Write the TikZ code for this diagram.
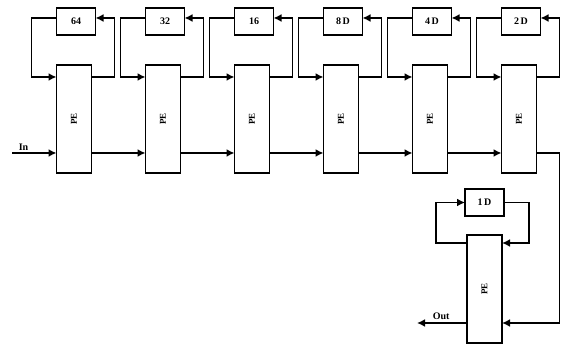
\documentclass[tikz,border=0pt]{standalone}
\usepackage{fontspec}
\setmainfont{Liberation Serif}
\usepackage{tikz}
\usetikzlibrary{arrows.meta, positioning}

\begin{document}
\begin{tikzpicture}[
    x=1pt, y=1pt,
    node distance=54pt,
    line width=1.7pt,
    >={Latex[length=8pt,width=8pt]},
    pe/.style={
        rectangle,
        draw,
        outer sep=0pt,
        minimum width=35pt,
        minimum height=108pt,
        font=\small\bfseries
    },
    delay/.style={
        rectangle,
        draw,
        outer sep=0pt,
        minimum width=39pt,
        minimum height=27pt,
        font=\normalsize\bfseries
    },
    lbl/.style={font=\normalsize\bfseries, inner sep=1pt}
]
\useasboundingbox (0,0) rectangle (562,345);

% processing elements in the chain
\node[pe] (pe1) at (74,226) {\rotatebox{90}{PE}};
\node[pe, right=of pe1] (pe2) {\rotatebox{90}{PE}};
\node[pe, right=of pe2] (pe3) {\rotatebox{90}{PE}};
\node[pe, right=of pe3] (pe4) {\rotatebox{90}{PE}};
\node[pe, right=of pe4] (pe5) {\rotatebox{90}{PE}};
\node[pe, right=of pe5] (pe6) {\rotatebox{90}{PE}};
\node[pe] (pe7) at (484.5,56) {\rotatebox{90}{PE}};

% delay lines
\node[delay, above right=30pt and 0pt of pe1.north west] (d1) {64};
\node[delay, above right=30pt and 0pt of pe2.north west] (d2) {32};
\node[delay, above right=30pt and 0pt of pe3.north west] (d3) {16};
\node[delay, above right=30pt and 0pt of pe4.north west] (d4) {8\,D};
\node[delay, above right=30pt and 0pt of pe5.north west] (d5) {4\,D};
\node[delay, above right=30pt and 0pt of pe6.north west] (d6) {2\,D};
\node[delay, above=19pt of pe7] (d7) {1\,D};

% feedback loops
\foreach \i in {1,...,6} {
    \draw[->] ([yshift=-12pt]pe\i.north east) -- ++(23pt,0) |- ([yshift=3.5pt]d\i.east);
    \draw[->] ([yshift=3.5pt]d\i.west) -- ++(-25pt,0) |- ([yshift=-12pt]pe\i.north west);
}
\draw[->] ([yshift=-8pt]pe7.north west) -- ++(-31pt,0) |- (d7.west);
\draw[->] (d7.east) -- ++(25pt,0) |- ([yshift=-8pt]pe7.north east);

% data path
\coordinate (in) at (12,192);
\node[lbl, above right=1pt and 5pt of in] (inlbl) {In};
\draw[->] (in) -- ([yshift=20pt]pe1.south west);
\foreach \i [count=\j from 2] in {1,...,5}
    \draw[->] ([yshift=20pt]pe\i.south east) -- ([yshift=20pt]pe\j.south west);
\draw[->] ([yshift=20pt]pe6.south east) -- ++(23pt,0) |- ([yshift=20pt]pe7.south east);
\coordinate (out) at (417,22);
\draw[->] ([yshift=20pt]pe7.south west) -- (out);
\node[lbl, above right=2pt and 14pt of out] (outlbl) {Out};

\end{tikzpicture}
\end{document}
